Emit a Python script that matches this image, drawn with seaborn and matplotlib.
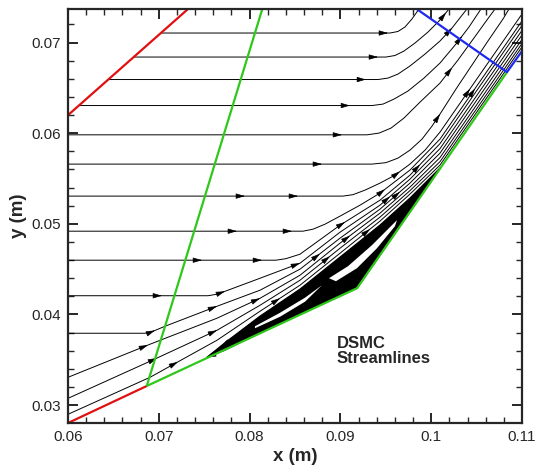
import numpy as np
import pandas as pd
import matplotlib
matplotlib.use("Agg")
import matplotlib.pyplot as plt
from matplotlib.ticker import MultipleLocator
import seaborn as sns

# All coordinates below are in millimetres; they are converted to metres when drawn.
MM = 1e-3

# ---- domain boundaries ----
inflow_upper_x = [60.00, 73.22]
inflow_upper_y = [61.99, 73.70]
inflow_lower_x = [60.00, 68.67]
inflow_lower_y = [28.03, 32.11]
shock_x = [68.67, 81.40]
shock_y = [32.11, 73.70]
wedge_x = [68.67, 91.83, 108.35]
wedge_y = [32.11, 42.90, 66.74]
outflow_x = [98.40, 108.35, 110.00]
outflow_y = [73.70, 66.74, 69.06]

# ---- streamlines (x, y) and arrow stations (x) ----
sl01_x = [70.24, 95.46, 96.34, 97.11, 97.88, 98.66]
sl01_y = [71.05, 71.05, 71.22, 71.71, 72.60, 73.70]
sl01_arrows = [95.24]

sl02_x = [67.27, 95.02, 96.01, 97.00, 98.22, 99.65, 100.97, 101.96]
sl02_y = [68.40, 68.40, 68.57, 69.06, 69.95, 71.16, 72.49, 73.70]
sl02_arrows = [94.14, 101.63]

sl03_x = [64.41, 94.14, 95.24, 96.34, 97.66, 99.32, 100.97, 102.29, 103.50, 103.94]
sl03_y = [65.92, 65.92, 66.08, 66.52, 67.41, 68.73, 70.17, 71.60, 73.15, 73.70]
sl03_arrows = [92.82, 102.29]

sl04_x = [61.20, 93.48, 94.69, 95.90, 97.44, 99.21, 100.97, 102.73, 104.16, 105.48]
sl04_y = [63.05, 63.05, 63.21, 63.76, 64.65, 66.08, 67.74, 69.84, 71.71, 73.70]
sl04_arrows = [91.06, 103.39]

sl05_x = [60.00, 92.93, 94.25, 95.57, 97.00, 98.77, 100.97, 102.95, 104.71, 106.14, 107.03]
sl05_y = [59.82, 59.82, 60.01, 60.56, 61.67, 63.43, 65.53, 68.07, 70.50, 72.49, 73.70]
sl05_arrows = [90.18, 102.29]

sl06_x = [60.00, 93.48, 95.02, 96.34, 97.66, 98.99, 100.09, 100.97, 102.73, 104.49, 106.25, 107.91, 108.57]
sl06_y = [56.59, 56.59, 56.75, 57.25, 58.13, 59.35, 60.78, 62.11, 64.87, 67.52, 70.17, 72.60, 73.70]
sl06_arrows = [87.97, 100.97]

sl07_x = [60.00, 90.29, 91.39, 92.71, 94.36, 96.01, 97.66, 99.32, 100.97, 103.17, 105.37, 107.58, 110.00]
sl07_y = [53.06, 53.06, 53.22, 53.72, 54.49, 55.37, 56.59, 58.13, 60.12, 63.30, 66.48, 69.66, 73.15]
sl07_arrows = [79.49, 85.33, 96.56, 104.27]

sl08_x = [60.00, 85.88, 86.98, 88.30, 89.96, 92.16, 94.36, 97.66, 100.97, 103.17, 105.37, 107.58, 110.00]
sl08_y = [49.19, 49.19, 49.41, 49.96, 50.85, 52.06, 53.39, 55.93, 59.35, 62.53, 65.71, 68.89, 72.39]
sl08_arrows = [78.61, 84.67, 94.91, 104.82]

sl09_x = [60.00, 82.91, 84.01, 85.55, 89.96, 94.36, 97.66, 100.97, 103.17, 105.37, 107.58, 110.00]
sl09_y = [45.99, 45.99, 46.16, 46.65, 49.85, 52.61, 55.37, 58.85, 62.03, 65.21, 68.39, 71.89]
sl09_arrows = [74.76, 81.37, 90.51, 98.77]

sl10_x = [60.00, 75.42, 76.41, 77.62, 81.15, 85.55, 89.96, 94.36, 97.66, 100.97, 103.17, 105.37, 107.58, 110.00]
sl10_y = [42.07, 42.07, 42.24, 42.68, 44.00, 45.66, 49.08, 52.06, 54.93, 58.30, 61.48, 64.66, 67.84, 71.34]
sl10_arrows = [70.35, 77.29, 85.55, 95.46]

sl11_x = [60.00, 68.48, 69.36, 70.68, 76.41, 81.15, 85.55, 89.96, 94.36, 97.66, 100.97, 103.17, 105.37, 107.58, 110.00]
sl11_y = [37.93, 37.93, 38.15, 38.70, 40.91, 42.68, 45.00, 48.42, 51.62, 54.49, 57.80, 60.98, 64.16, 67.34, 70.84]
sl11_arrows = [69.58, 76.41, 87.75, 96.56]

near_wall_x = [60.00, 69.03, 76.41, 81.15, 85.55, 89.96, 94.36, 97.66, 100.97, 103.17, 105.37, 107.58, 110.00]
sl12_y = [33.07, 36.72, 39.59, 41.79, 44.33, 47.87, 51.18, 54.05, 57.31, 60.48, 63.66, 66.84, 70.34]
sl12_arrows = [68.81, 81.15, 91.06]
sl13_y = [30.75, 34.84, 38.26, 41.02, 43.78, 47.31, 50.74, 53.66, 56.86, 60.04, 63.22, 66.40, 69.90]
sl13_arrows = [69.80, 76.41, 88.85]
sl14_y = [28.99, 33.07, 37.16, 40.36, 43.23, 46.76, 50.30, 53.28, 56.48, 59.66, 62.84, 66.02, 69.52]
sl14_arrows = [72.11, 83.35, 93.26]

# ---- separation bubble ----
bubble_x = [75.31, 77.51, 81.15, 85.55, 89.96, 94.36, 97.66, 101.08, 91.83, 75.31]
bubble_y = [35.28, 37.05, 39.81, 42.79, 46.32, 49.85, 52.83, 56.26, 42.90, 35.28]
core_a_x = [80.59, 83.35, 86.10, 87.97, 86.10, 83.35, 80.59]
core_a_y = [38.70, 40.19, 41.85, 43.23, 41.41, 39.75, 38.48]
core_b_x = [88.74, 90.84, 93.48, 96.23, 96.01, 94.03, 91.83, 89.51]
core_b_y = [44.00, 45.33, 47.65, 50.41, 49.74, 47.31, 45.11, 43.67]
reverse1_x = [81.70, 79.49, 77.29, 75.31]
reverse1_y = [38.26, 37.16, 36.05, 35.28]
reverse2_x = [81.37, 78.94, 76.85]
reverse2_y = [39.14, 37.71, 36.50]

x_ticks = [0.06, 0.07, 0.08, 0.09, 0.10, 0.11]
x_ticklabels = ["0.06", "0.07", "0.08", "0.09", "0.1", "0.11"]
y_ticks = [0.03, 0.04, 0.05, 0.06, 0.07]
y_ticklabels = ["0.03", "0.04", "0.05", "0.06", "0.07"]

streams = [
    ("s01", sl01_x, sl01_y, sl01_arrows),
    ("s02", sl02_x, sl02_y, sl02_arrows),
    ("s03", sl03_x, sl03_y, sl03_arrows),
    ("s04", sl04_x, sl04_y, sl04_arrows),
    ("s05", sl05_x, sl05_y, sl05_arrows),
    ("s06", sl06_x, sl06_y, sl06_arrows),
    ("s07", sl07_x, sl07_y, sl07_arrows),
    ("s08", sl08_x, sl08_y, sl08_arrows),
    ("s09", sl09_x, sl09_y, sl09_arrows),
    ("s10", sl10_x, sl10_y, sl10_arrows),
    ("s11", sl11_x, sl11_y, sl11_arrows),
    ("s12", near_wall_x, sl12_y, sl12_arrows),
    ("s13", near_wall_x, sl13_y, sl13_arrows),
    ("s14", near_wall_x, sl14_y, sl14_arrows),
]

sns.set_style("ticks")
plt.rcParams["font.family"] = ["Liberation Sans", "DejaVu Sans"]

fig = plt.figure(figsize=(5.37, 4.70), dpi=100)
ax = fig.add_axes([68 / 537, 47 / 470, 454 / 537, 414 / 470])

frames = []
for name, xs, ys, _ in streams:
    frames.append(pd.DataFrame({"x": np.asarray(xs) * MM, "y": np.asarray(ys) * MM, "line": name}))
for name, xs, ys in [("r1", reverse1_x, reverse1_y), ("r2", reverse2_x, reverse2_y)]:
    frames.append(pd.DataFrame({"x": np.asarray(xs) * MM, "y": np.asarray(ys) * MM, "line": name}))
df = pd.concat(frames, ignore_index=True)

sns.lineplot(data=df, x="x", y="y", units="line", estimator=None, sort=False,
             color="black", linewidth=0.7, legend=False, ax=ax, zorder=2)

ARROW = dict(arrowstyle="-|>,head_length=0.55,head_width=0.16", color="black",
             lw=0.5, shrinkA=0, shrinkB=0, mutation_scale=10)


def draw_arrow(px, py, ux, uy):
    ax.annotate("", xy=(px * MM, py * MM),
                xytext=((px - 0.25 * ux) * MM, (py - 0.25 * uy) * MM),
                arrowprops=ARROW, zorder=2.2)


def arrows_along(xs, ys, stations):
    xs = np.asarray(xs, float)
    ys = np.asarray(ys, float)
    for xa in stations:
        i = int(np.clip(np.searchsorted(xs, xa) - 1, 0, len(xs) - 2))
        dx, dy = xs[i + 1] - xs[i], ys[i + 1] - ys[i]
        t = (xa - xs[i]) / dx
        n = np.hypot(dx, dy)
        draw_arrow(xs[i] + t * dx, ys[i] + t * dy, dx / n, dy / n)


for _, xs, ys, stations in streams:
    arrows_along(xs, ys, stations)

# recirculation bubble
ax.fill(np.asarray(bubble_x) * MM, np.asarray(bubble_y) * MM, color="black", lw=1.0, zorder=2.5)
ax.fill(np.asarray(core_a_x) * MM, np.asarray(core_a_y) * MM, color="white", lw=0, zorder=2.6)
ax.fill(np.asarray(core_b_x) * MM, np.asarray(core_b_y) * MM, color="white", lw=0, zorder=2.6)
for xs, ys in [(reverse1_x, reverse1_y), (reverse2_x, reverse2_y)]:
    n = np.hypot(xs[-1] - xs[-2], ys[-1] - ys[-2])
    draw_arrow(xs[-1], ys[-1], (xs[-1] - xs[-2]) / n, (ys[-1] - ys[-2]) / n)

# boundaries
red, green, blue = "#e01010", "#2ec81a", "#1e28f0"
for xs, ys, c in [(inflow_upper_x, inflow_upper_y, red), (inflow_lower_x, inflow_lower_y, red),
                  (shock_x, shock_y, green), (wedge_x, wedge_y, green), (outflow_x, outflow_y, blue)]:
    ax.plot(np.asarray(xs) * MM, np.asarray(ys) * MM, color=c, lw=1.6, zorder=4,
            solid_capstyle="butt")

ax.text(89.62 * MM, 37.60 * MM, "DSMC\nStreamlines", ha="left", va="top",
        fontsize=12, fontweight="bold", linespacing=1.0, zorder=5)

ax.set_xlim(0.06, 0.11)
ax.set_ylim(0.02803, 0.0737)
ax.set_xticks(x_ticks, x_ticklabels)
ax.set_yticks(y_ticks, y_ticklabels)
ax.xaxis.set_minor_locator(MultipleLocator(0.002))
ax.yaxis.set_minor_locator(MultipleLocator(0.002))
ax.tick_params(which="both", direction="in", top=True, right=True, labelsize=11, pad=5)
ax.tick_params(which="major", length=7, width=1.4)
ax.tick_params(which="minor", length=4, width=1.0)
for s in ax.spines.values():
    s.set_linewidth(1.6)
    s.set_zorder(6)

ax.set_xlabel("x (m)", fontsize=13.5, fontweight="bold", labelpad=3)
ax.set_ylabel("y (m)", fontsize=13.5, fontweight="bold", labelpad=3)

fig.savefig("out.png", dpi=100)
